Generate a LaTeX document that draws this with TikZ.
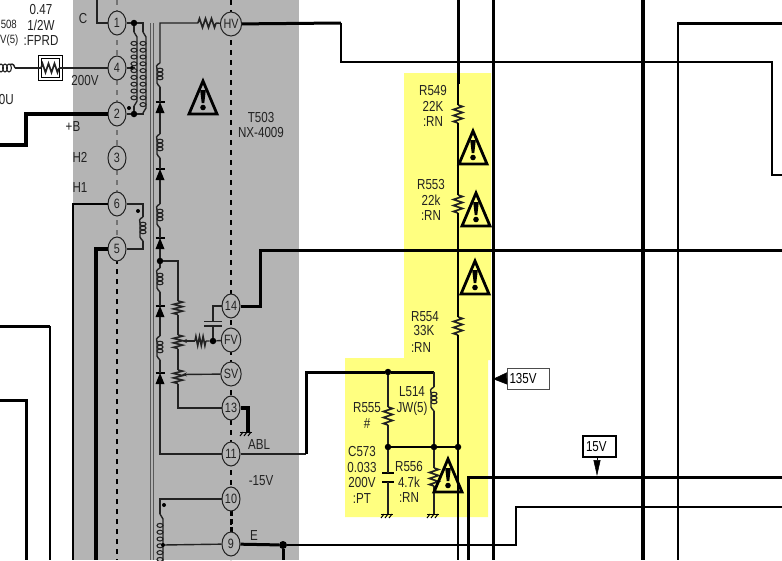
\documentclass[tikz,border=0pt]{standalone}
\usepackage{fontspec}
\setmainfont[FakeStretch=0.8]{Liberation Sans}
\usetikzlibrary{arrows.meta,positioning,shapes.geometric}
\definecolor{panelgray}{HTML}{B4B4B4}
\definecolor{marker}{HTML}{FFFF80}
\definecolor{inkgray}{HTML}{222222}
\tikzset{
	wire/.style={line width=1.4pt,inkgray},
	lead/.style={line width=2pt},
	busA/.style={line width=3pt},
	busB/.style={line width=4pt},
	pin/.style={ellipse,draw=inkgray,fill=panelgray,line width=1pt,minimum width=18pt,minimum height=24pt,inner sep=0pt,font=\fontsize{13.5}{14}\selectfont,text=inkgray},
	jdot/.style={circle,fill=black,inner sep=0pt,minimum size=6.5pt},
	mdot/.style={circle,fill=black,inner sep=0pt,minimum size=4pt},
	lbl/.style={inner sep=0pt,align=center,font=\fontsize{14.5}{15.5}\selectfont,text=inkgray},
	resv/.pic={
		\draw[line width=1.6pt,inkgray,line join=miter] (0,0)--(4.5,1.5)--(-4.5,4.5)--(4.5,7.5)--(-4.5,10.5)--(4.5,13.5)--(-4.5,16.5)--(0,18);
		\coordinate (-top) at (0,0);
		\coordinate (-bot) at (0,18);
	},
	coilv/.pic={
		\draw[wire] (0,0) .. controls (-4,2) and (-4,4) .. (-3,6) -- (-3,16) .. controls (-4,19) and (-3,21) .. (0,24);
		\foreach \yy in {7,11,15} \draw[line width=1.1pt,inkgray] (0,\yy) ellipse (3 and 1.8);
		\coordinate (-top) at (0,0);
		\coordinate (-bot) at (0,24);
	},
	coilcol/.pic={
		\foreach \ii in {1,...,#1} \draw[line width=1.1pt,inkgray] (0,{\ii*6.8-3.4}) ellipse (3 and 2);
		\draw[wire] (0,-8) -- (3,-3) -- (3,{#1*6.8}) -- (0,{#1*6.8+5});
		\coordinate (-top) at (0,-8);
		\coordinate (-bot) at (0,{#1*6.8+5});
	},
	diode/.pic={
		\draw[line width=1.4pt] (-4.5,0) -- (4.5,0);
		\fill (0,0) -- (4.5,11) -- (-4.5,11) -- cycle;
		\coordinate (-top) at (0,0);
		\coordinate (-bot) at (0,11);
	},
	gnd/.pic={
		\draw[line width=1pt] (-6,0) -- (6,0);
		\foreach \xx in {-3,1,5} \draw[line width=1pt] (\xx,0) -- (\xx-3,4);
	},
	warnsign/.pic={
		\draw[line width=2.8pt,miter limit=10,line join=miter] (0,0) -- (14,33) -- (-14,33) -- cycle;
		\fill (-2.8,9) -- (2.8,9) -- (1.3,22) -- (-1.3,22) -- cycle;
		\fill (0,26.5) circle (2.8);
	},
}
\begin{document}
\begin{tikzpicture}[x=1pt,y=-1pt]
\useasboundingbox (0,0) rectangle (782,560);
\fill[white] (0,0) rectangle (782,560);
\fill[panelgray] (73,0) rectangle (299,560);
\fill[marker] (404,73) -- (491,73) -- (491,360) -- (488,360) -- (488,517) -- (345,517) -- (345,358) -- (404,358) -- cycle;

% transformer core and dashed pin rows
\draw[line width=1pt,black!65] (150.5,23) -- (150.5,560) (153.5,23) -- (153.5,560);
\draw[line width=1.2pt,black!55,dash pattern=on 5pt off 5pt] (117,0) -- (117,249);
\draw[line width=1.4pt,dash pattern=on 5pt off 5pt] (117,249) -- (117,560);
\draw[line width=1.2pt,dash pattern=on 5pt off 5pt] (231,0) -- (231,560);
\draw[line width=3pt,dash pattern=on 5pt off 3pt] (231,511) -- (231,532);

% pins
\node[pin] (pinA) at (117,23) {1};
\node[pin] (pinD) at (117,68) {4};
\node[pin] (pinB) at (117,114) {2};
\node[pin] (pinC) at (117,158) {3};
\node[pin] (pinF) at (117,204) {6};
\node[pin] (pinE) at (117,249) {5};
\node[pin] (pinHV) at (231,24) {HV};
\node[pin] (pinN) at (231,306) {14};
\node[pin] (pinFV) at (231,340) {FV};
\node[pin] (pinSV) at (231,374) {SV};
\node[pin] (pinM) at (231,408) {13};
\node[pin] (pinK) at (231,454) {11};
\node[pin] (pinJ) at (231,499) {10};
\node[pin] (pinI) at (231,544) {9};

% primary side
\node[jdot] (jA) at (134,23) {};
\node[jdot] (jB) at (134,114) {};
\node[mdot] (mA) at (132,68) {};
\node[mdot] (mB) at (129,108) {};
\node[mdot] (mC) at (138,211) {};
\pic (colL) at (134,40) {coilcol=9};
\pic (colR) at (143,40) {coilcol=10};
\coordinate (cTopR) at (143,23);
\coordinate (cC) at (97,0);
\draw[wire] (cC) |- (pinA);
\draw[wire] (pinA) -- (jA) -- (cTopR) -- (colR-top) (colR-bot) -- (colR-bot |- jB) -- (jB);
\draw[wire] (jA) -- (colL-top) (colL-bot) -- (jB);
\draw[wire] (pinB) -- (jB);
\pic (coilH) at (143,217) {coilv};
\coordinate (cH) at (143,204);
\coordinate (cHb) at (143,249);
\draw[wire] (pinF) -- (cH) -- (coilH-top) (coilH-bot) -- (cHb) -- (pinE);

% left side leads
\coordinate (cBa) at (0,145);
\coordinate (cBb) at (26,114);
\draw[busB,line join=miter] (cBa) -| (cBb) -- (pinB);
\draw[lead] (pinF) -| (73,560);
\draw[busB] (pinE) -| (96,560);
\draw[busA] (0,326) -- (50,326);
\draw[lead] (50,326) -- (50,560);
\draw[busA] (0,400) -| (26,560);

% fuse resistor box
\node[draw,line width=1pt,fill=white,minimum width=24pt,minimum height=25pt,inner sep=0pt] (fprdO) at (50,68) {};
\node[draw,line width=1pt,minimum width=18pt,minimum height=19pt,inner sep=0pt] (fprdI) at (50,68) {};
\pic[rotate=90] (rFprd) at (41,68) {resv};
\coordinate (cCoil) at (15,68);
\foreach \xx in {1,5,9} \draw[line width=1.1pt,inkgray] (\xx,68) ellipse (2.4 and 4);
\draw[wire] (10,64.5) .. controls (13,63) and (15,66) .. (cCoil);
\draw[wire] (cCoil) -- (rFprd-top) (rFprd-bot) -- (pinD);
\draw[wire] (pinD) -- (mA) -- (134,68);

% secondary chain
\pic[rotate=90] (rHV) at (198,23) {resv};
\pic (coilP) at (160,63) {coilv};
\pic (dioP) at (160,102) {diode};
\pic (coilQ) at (160,134) {coilv};
\pic (dioQ) at (160,169) {diode};
\pic (coilR) at (160,204) {coilv};
\pic (dioR) at (160,238) {diode};
\node[jdot] (jS) at (160,261) {};
\pic (coilS) at (160,268) {coilv};
\pic (dioS) at (160,306) {diode};
\pic (coilT) at (160,336) {coilv};
\pic (dioT) at (160,373) {diode};
\coordinate (cTop) at (160,23);
\coordinate (cLow) at (160,454);
\draw[wire] (pinHV) -- (rHV-bot) (rHV-top) -- (cTop) -- (coilP-top);
\draw[wire] (coilP-bot) -- (dioP-top) (dioP-bot) -- (coilQ-top) (coilQ-bot) -- (dioQ-top) (dioQ-bot) -- (coilR-top);
\draw[wire] (coilR-bot) -- (dioR-top) (dioR-bot) -- (jS) -- (coilS-top) (coilS-bot) -- (dioS-top) (dioS-bot) -- (coilT-top);
\draw[wire] (coilT-bot) -- (dioT-top) (dioT-bot) -- (cLow) -- (pinK);

% focus divider
\pic[yscale=.75] (rG) at (178,301) {resv};
\pic[yscale=.75] (potF) at (178,335) {resv};
\pic[yscale=.75] (potS) at (178,370) {resv};
\pic[rotate=90,xscale=1,yscale=.6] (rFV) at (195,341) {resv};
\coordinate (cGa) at (178,261);
\coordinate (cGb) at (178,408);
\coordinate (tipF) at (182,341);
\coordinate (tipS) at (182,374.5);
\node[jdot] (jF) at (213,341) {};
\draw[wire] (jS) -- (cGa) -- (rG-top) (rG-bot) -- (potF-top) (potF-bot) -- (potS-top) (potS-bot) -- (cGb) -- (pinM);
\draw[wire,-{Stealth[length=5pt,width=4pt]}] (rFV-top) -- (tipF);
\draw[wire] (rFV-bot) -- (jF) -- (pinFV);
\draw[wire,-{Stealth[length=5pt,width=4pt]}] (pinSV) -- (tipS);
% flyback cap
\coordinate (capU) at (213,321.5);
\coordinate (capD) at (213,326);
\coordinate (capT) at (213,306);
\draw[line width=1.5pt,inkgray] (204,321.5) -- (222,321.5) (204,326) -- (222,326);
\draw[wire] (jF) -- (capD) (capU) -- (capT) -- (pinN);
% pin 13 ground
\coordinate (cGnd) at (248,408);
\coordinate (cGndB) at (248,432);
\draw[busB,line join=miter] (pinM) -- (cGnd) -- (cGndB);
\pic at (246,432) {gnd};
% pins 10 and 9
\pic (colB) at (160,522) {coilcol=6};
\coordinate (cJ) at (160,499);
\node[mdot] (mD) at (164,505) {};
\draw[wire] (pinJ) -- (cJ) -- (colB-top);
\node[mdot] (mE) at (163,545) {};
\draw[wire] (pinI) -- (mE);
\node[jdot,minimum size=8pt] (jE) at (283,545) {};
\coordinate (cEb) at (516,545);
\coordinate (cEc) at (516,507);
\coordinate (cEd) at (782,507);
\draw[busA] (pinI) -- (jE);
\draw[busA] (jE) -- (283,560);
\draw[lead,line join=miter] (jE) -- (cEb) -- (cEc) -- (cEd);

% long runs
\coordinate (cHa) at (341,23);
\coordinate (cHc) at (772,62);
\coordinate (cHd) at (782,175);
\draw[busA] (pinHV) -- (cHa);
\draw[lead,line join=miter] (cHa) |- (cHc) |- (cHd);
\draw[busA] (782,23) -- (678,23);
\draw[lead] (678,21.5) -- (678,560);
\draw[busB] (643,0) -- (643,560);
\draw[busA] (493,0) -- (493,560);
\coordinate (cLa) at (468,560);
\coordinate (cLb) at (782,477);
\draw[busA,line join=miter] (cLa) |- (cLb);
\coordinate (cNa) at (260,250);
\coordinate (cNb) at (782,250);
\draw[busA,line join=miter] (pinN) -| (cNa) -- (cNb);

% string on the marked area
\pic (rFa) at (458,105) {resv};
\pic (rFb) at (458,195) {resv};
\pic (rFc) at (458,317) {resv};
\coordinate (cTa) at (458,0);
\coordinate (cTb) at (458,84);
\coordinate (cTz) at (458,560);
\node[jdot] (jQ) at (458,447) {};
\draw[busA] (cTa) -- (cTb);
\draw[lead] (cTb) -- (rFa-top) (rFa-bot) -- (rFb-top) (rFb-bot) -- (rFc-top) (rFc-bot) -- (jQ) -- (cTz);

\coordinate (cAa) at (306,454);
\coordinate (cAb) at (306,372);
\coordinate (cAc) at (434,372);
\node[jdot] (jU) at (388,372) {};
\node[jdot] (jV) at (388,447) {};
\node[jdot] (jW) at (434,447) {};
\pic (rG55) at (388,407) {resv};
\pic (rG56) at (434,468) {resv};
\pic (coilL) at (434,387) {coilv};
\draw[wire] (pinK) -- (cAa);
\draw[busA,line join=miter] (cAa) -- (cAb) -- (jU) -- (cAc);
\draw[wire] (cAc) -- (coilL-top) (coilL-bot) -- (jW);
\draw[wire] (jU) -- (rG55-top) (rG55-bot) -- (jV);
\draw[lead] (jV) -- (jW) -- (jQ);
\coordinate (capP) at (388,473);
\coordinate (capQ) at (388,482);
\coordinate (capG) at (388,514);
\coordinate (coilG) at (434,514);
\draw[lead] (382,473) -- (394,473) (382,482) -- (394,482);
\draw[wire] (jV) -- (capP) (capQ) -- (capG);
\draw[wire] (jW) -- (rG56-top) (rG56-bot) -- (coilG);
\pic at (387,514) {gnd};
\pic at (433,514) {gnd};

% warning signs
\pic at (203,81) {warnsign};
\pic at (473,131) {warnsign};
\pic at (476,193) {warnsign};
\pic at (475,261) {warnsign};
\pic at (448,459) {warnsign};

% voltage flags
\node[draw=black!70,fill=white,line width=1pt,minimum width=42pt,minimum height=21pt,inner sep=0pt,text width=37pt,align=left,font=\fontsize{14.5}{15}\selectfont] (flagA) at (528,378.5) {135V};
\node[draw,fill=white,line width=1.6pt,minimum width=33pt,minimum height=21pt,inner sep=0pt,text width=27pt,align=left,font=\fontsize{14.5}{15}\selectfont] (flagB) at (599.5,446.5) {15V};
\coordinate (tipA) at (493,379);
\coordinate (tipB) at (597,476);
\draw[-{Triangle[length=14pt,width=12pt]},line width=.5pt] (flagA.west) -- (tipA);
\draw[-{Triangle[length=16pt,width=7pt]},line width=.5pt] (tipB |- flagB.south) -- (tipB);

% labels
\node[lbl] (lbFprd) at (41,25) {0.47\\1/2W\\:FPRD};
\node[lbl,anchor=east,font=\fontsize{12}{13}\selectfont] (lbA) at (17,24) {508};
\node[lbl,anchor=east,font=\fontsize{12}{13}\selectfont] (lbB) at (18.5,40) {V(5)};
\node[lbl,anchor=east] (lbC) at (14,100) {0U};
\node[lbl] (lbPinC) at (83,19) {C};
\node[lbl] (lbVa) at (85,81) {200V};
\node[lbl] (lbVb) at (73,127) {+B};
\node[lbl] (lbHb) at (80,157) {H2};
\node[lbl] (lbHa) at (80,188) {H1};
\node[lbl] (lbT) at (261,125) {T503\\NX-4009};
\node[lbl] (lbAbl) at (259,445) {ABL};
\node[lbl] (lbNeg) at (261,481) {-15V};
\node[lbl] (lbE) at (254,536) {E};
\node[lbl] (lbRa) at (433,106) {R549\\22K\\:RN};
\node[lbl] (lbRb) at (431,200) {R553\\22k\\:RN};
\node[lbl] (lbRc) at (425,317) {R554};
\node[lbl] (lbRd) at (424,331) {33K};
\node[lbl] (lbRe) at (421,348) {:RN};
\node[lbl] (lbL) at (412,401) {L514\\JW(5)};
\node[lbl] (lbR5) at (367,415.5) {R555\\\#};
\node[lbl] (lbCap) at (362,475) {C573\\0.033\\200V\\:PT};
\node[lbl] (lbR6) at (409,482) {R556\\4.7k\\:RN};
\end{tikzpicture}
\end{document}
